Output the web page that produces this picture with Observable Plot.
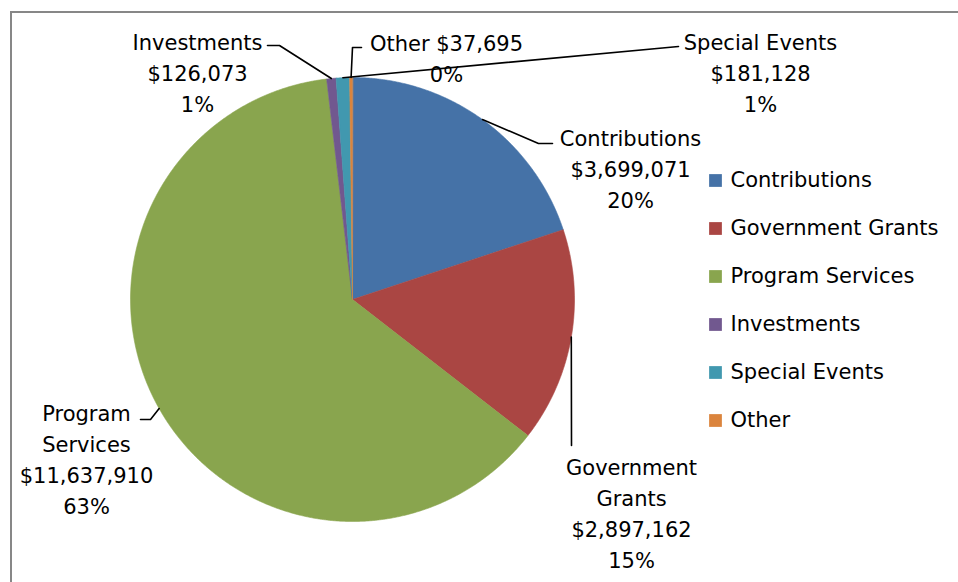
<!DOCTYPE html>
<html><head><meta charset="utf-8">
<script src="https://cdn.jsdelivr.net/npm/d3@7"></script>
<script src="https://cdn.jsdelivr.net/npm/@observablehq/plot@0.6"></script>
<style>
body{margin:0;background:#fff;}
#wrap{position:relative;width:958px;height:582px;overflow:hidden;}
#chart{position:absolute;left:0;top:0;}
#frame{position:absolute;left:10px;top:11px;width:1000px;height:1000px;border:2.5px solid #878787;box-sizing:border-box;pointer-events:none;}
</style></head><body>
<div id="wrap"><div id="chart"></div><div id="frame"></div></div>
<script>
// ---- data ----
const categories = ["Contributions", "Government Grants", "Program Services", "Investments", "Special Events", "Other"];
const values = [3699071, 2897162, 11637910, 126073, 181128, 37695];
const percentLabels = ["20%", "15%", "63%", "1%", "1%", "0%"];
const labelNames = ["Contributions", "Government\nGrants", "Program\nServices", "Investments", "Special Events", "Other"];
const colors = ["#4572A7", "#AA4643", "#89A54E", "#71588F", "#4198AF", "#DB843D"];

// ---- layout (pixels) ----
const pieCenter = [352, 299], pieRadius = 222;
const labelAnchors = [[630, 167], [631, 511], [86, 457], [197, 71], [760, 71], [446, 56]];
const labelJoin = ["\n", "\n", "\n", "\n", "\n", " "];
const leaderBends = [
  [[538, 143], [552, 143]],
  [[571, 445]],
  [[150, 419], [140, 419]],
  [[279, 45], [267, 45]],
  [[678, 46]],
  [[352, 47], [361, 47]]
];
const legendX = 715, legendTextX = 730, legendTop = 180, legendStep = 48;
const FONT = 21;

// ---- build ----
const fmt = d3.format("$,");
const arcs = d3.pie().sort(null).value(d => d)(values);
const [cx, cy] = pieCenter;
const P = a => [cx + pieRadius * Math.sin(a), cy - pieRadius * Math.cos(a)];

const pieRows = [];
arcs.forEach((arc, i) => {
  const cat = categories[i];
  pieRows.push({category: cat, px: cx, py: cy});
  const n = Math.max(2, Math.ceil((arc.endAngle - arc.startAngle) / (Math.PI / 720)));
  for (let k = 0; k <= n; k++) {
    const a = arc.startAngle + (arc.endAngle - arc.startAngle) * k / n;
    const [px, py] = P(a);
    pieRows.push({category: cat, px, py});
  }
});

const leaderRows = [];
arcs.forEach((arc, i) => {
  const mid = (arc.startAngle + arc.endAngle) / 2;
  const [px, py] = P(mid);
  leaderRows.push({category: categories[i], px, py});
  leaderBends[i].forEach(([bx, by]) => leaderRows.push({category: categories[i], px: bx, py: by}));
});

const labelRows = categories.map((c, i) => ({
  px: labelAnchors[i][0], py: labelAnchors[i][1],
  text: labelNames[i] + labelJoin[i] + fmt(values[i]) + "\n" + percentLabels[i]
}));

const legendRows = categories.map((c, i) => ({category: c, px: legendX, tx: legendTextX, py: legendTop + i * legendStep}));

const chart = Plot.plot({
  width: 958, height: 582,
  margin: 0,
  x: {type: "identity", axis: null},
  y: {type: "identity", axis: null},
  color: {domain: categories, range: colors},
  style: {fontFamily: "'DejaVu Sans', sans-serif", background: "transparent", color: "black"},
  marks: [
    Plot.line(pieRows, {x: "px", y: "py", z: "category", fill: "category", stroke: "category", strokeWidth: 0.6, curve: "linear-closed"}),
    Plot.line(leaderRows, {x: "px", y: "py", z: "category", stroke: "black", strokeWidth: 1.6}),
    Plot.text(labelRows, {x: "px", y: "py", text: "text", fontSize: FONT, lineHeight: 31 / FONT, textAnchor: "middle", fill: "black"}),
    Plot.dot(legendRows, {x: "px", y: "py", fill: "category", symbol: "square", r: 7.2, stroke: null}),
    Plot.text(legendRows, {x: "tx", y: "py", text: "category", fontSize: FONT, textAnchor: "start", fill: "black"})
  ]
});
document.getElementById("chart").appendChild(chart);
</script>
</body></html>
